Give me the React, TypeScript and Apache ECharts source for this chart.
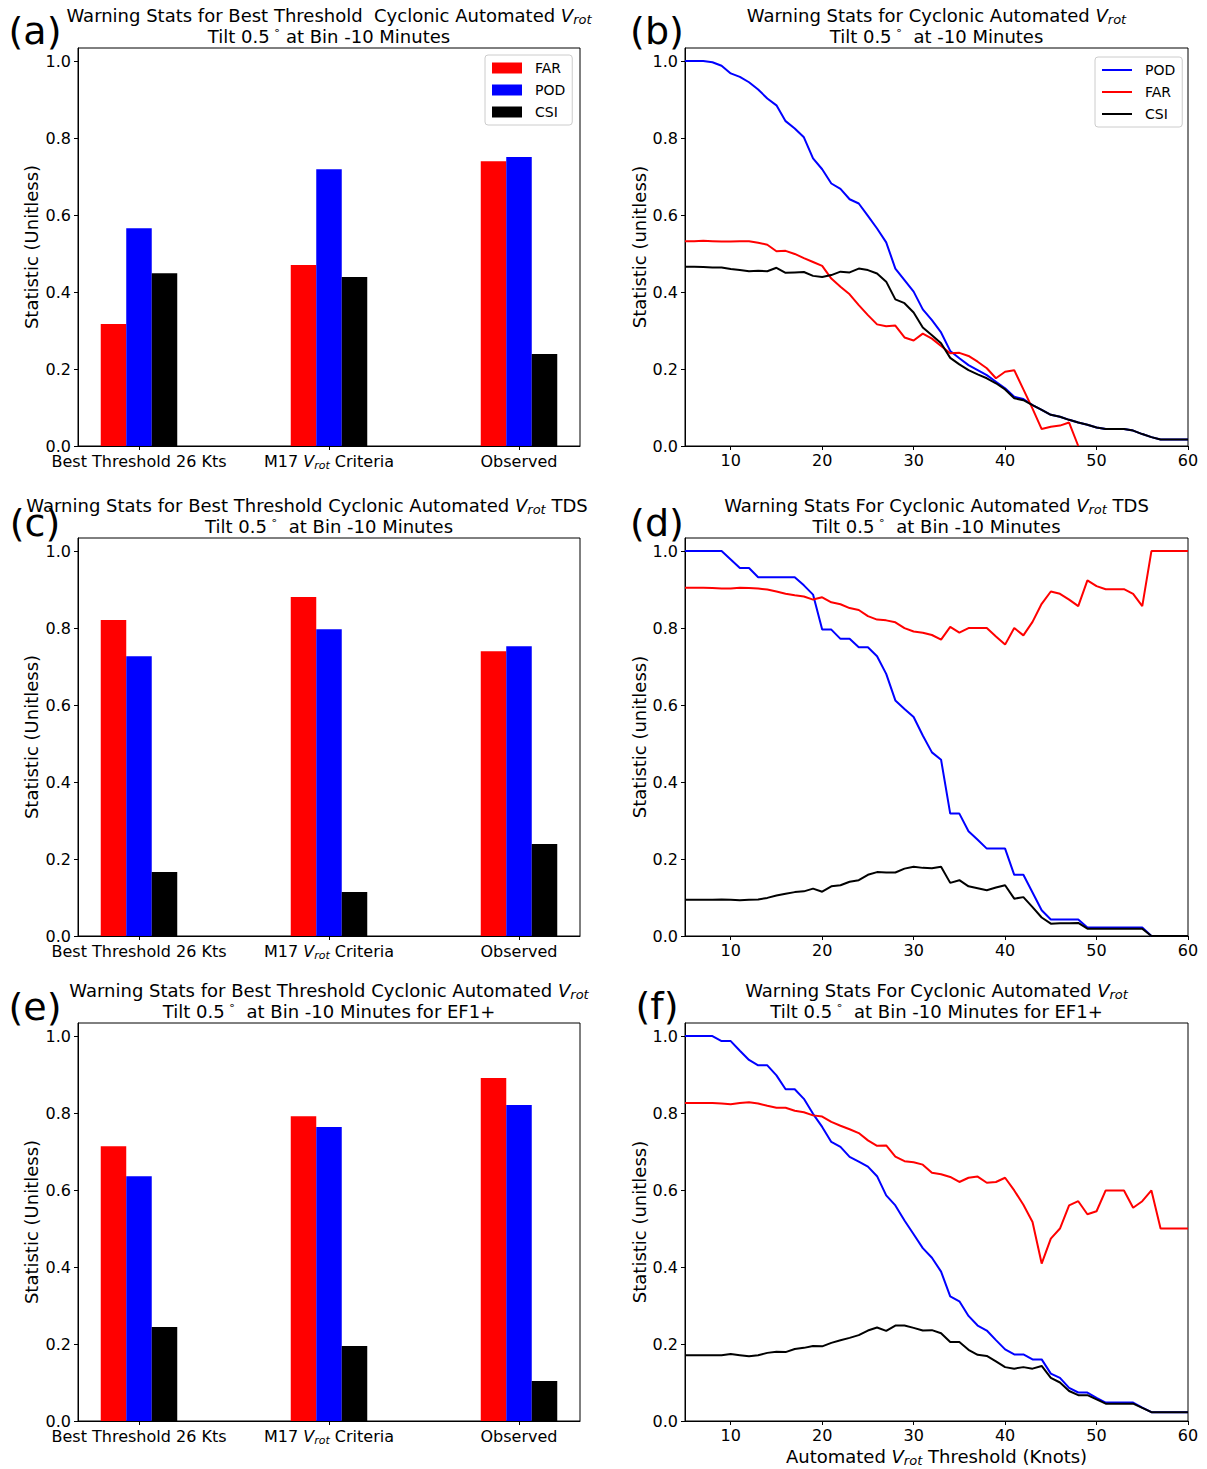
import React, { useEffect, useRef } from 'react';
import * as echarts from 'echarts';

const FONT = 'DejaVu Sans';

// ---------- Bar chart data ----------
const barCategories = ['Best Threshold 26 Kts', 'M17 V_rot Criteria', 'Observed'];
const barPositions = [0, 1, 2];

const aFAR = [0.317, 0.470, 0.740];
const aPOD = [0.566, 0.719, 0.751];
const aCSI = [0.449, 0.439, 0.239];

const cFAR = [0.821, 0.881, 0.740];
const cPOD = [0.727, 0.797, 0.753];
const cCSI = [0.166, 0.114, 0.239];

const eFAR = [0.714, 0.792, 0.891];
const ePOD = [0.636, 0.764, 0.821];
const eCSI = [0.244, 0.195, 0.104];

// ---------- Line chart data (threshold in knots) ----------
const thresholds = [5, 6, 7, 8, 9, 10, 11, 12, 13, 14, 15, 16, 17, 18, 19, 20, 21, 22, 23, 24, 25, 26, 27, 28, 29, 30,
  31, 32, 33, 34, 35, 36, 37, 38, 39, 40, 41, 42, 43, 44, 45, 46, 47, 48, 49, 50, 51, 52, 53, 54, 55, 56, 57, 58, 59, 60];

const bPOD = [1.0, 1.0, 1.0, 0.997, 0.988, 0.968, 0.959, 0.945, 0.926, 0.903,
  0.885, 0.844, 0.825, 0.802, 0.747, 0.719, 0.682, 0.668, 0.641, 0.630,
  0.598, 0.565, 0.529, 0.461, 0.431, 0.401, 0.355, 0.327, 0.295, 0.247,
  0.228, 0.210, 0.197, 0.184, 0.167, 0.150, 0.128, 0.122, 0.106, 0.094,
  0.081, 0.076, 0.068, 0.061, 0.055, 0.048, 0.044, 0.044, 0.044, 0.040,
  0.031, 0.023, 0.017, 0.017, 0.017, 0.017];
const bFAR = [0.532, 0.532, 0.533, 0.532, 0.531, 0.531, 0.532, 0.532, 0.528, 0.523,
  0.506, 0.507, 0.499, 0.488, 0.478, 0.468, 0.435, 0.414, 0.394, 0.366,
  0.340, 0.316, 0.311, 0.313, 0.282, 0.274, 0.292, 0.279, 0.260, 0.241,
  0.242, 0.234, 0.219, 0.202, 0.176, 0.193, 0.197, 0.147, 0.097, 0.044,
  0.050, 0.053, 0.061, 0.0, null, null, null, null, null, null,
  null, null, null, null, null, null];
const bCSI = [0.466, 0.466, 0.465, 0.464, 0.464, 0.460, 0.457, 0.454, 0.455, 0.454,
  0.463, 0.450, 0.451, 0.452, 0.442, 0.439, 0.444, 0.453, 0.451, 0.461,
  0.457, 0.448, 0.427, 0.381, 0.371, 0.347, 0.308, 0.288, 0.267, 0.229,
  0.212, 0.197, 0.186, 0.176, 0.163, 0.147, 0.124, 0.119, 0.106, 0.094,
  0.081, 0.076, 0.068, 0.061, 0.055, 0.048, 0.044, 0.044, 0.044, 0.040,
  0.031, 0.023, 0.017, 0.017, 0.017, 0.017];

const dPOD = [1, 1, 1, 1, 1, 0.978, 0.956, 0.956, 0.932, 0.932,
  0.932, 0.932, 0.932, 0.911, 0.887, 0.796, 0.796, 0.772, 0.772, 0.750,
  0.750, 0.727, 0.681, 0.612, 0.590, 0.569, 0.521, 0.477, 0.458, 0.318,
  0.318, 0.272, 0.250, 0.227, 0.227, 0.227, 0.159, 0.159, 0.113, 0.067,
  0.043, 0.043, 0.043, 0.043, 0.022, 0.022, 0.022, 0.022, 0.022, 0.022,
  0.022, 0, 0, 0, 0, 0];
const dFAR = [0.905, 0.905, 0.905, 0.904, 0.903, 0.903, 0.905, 0.904, 0.903, 0.900,
  0.895, 0.889, 0.885, 0.882, 0.874, 0.880, 0.867, 0.862, 0.852, 0.847,
  0.831, 0.822, 0.820, 0.815, 0.800, 0.791, 0.788, 0.782, 0.770, 0.803,
  0.788, 0.800, 0.800, 0.800, 0.778, 0.757, 0.800, 0.781, 0.816, 0.863,
  0.895, 0.889, 0.874, 0.857, 0.924, 0.909, 0.901, 0.901, 0.901, 0.889,
  0.857, 1, 1, 1, 1, 1];
const dCSI = [0.094, 0.094, 0.094, 0.094, 0.095, 0.094, 0.093, 0.094, 0.095, 0.099,
  0.105, 0.110, 0.114, 0.116, 0.123, 0.115, 0.129, 0.132, 0.141, 0.145,
  0.159, 0.166, 0.165, 0.165, 0.175, 0.180, 0.177, 0.176, 0.180, 0.138,
  0.145, 0.129, 0.124, 0.119, 0.126, 0.132, 0.097, 0.101, 0.075, 0.048,
  0.032, 0.033, 0.033, 0.034, 0.019, 0.019, 0.019, 0.019, 0.019, 0.019,
  0.019, 0, 0, 0, 0, 0];

const fPOD = [1, 1, 1, 1, 0.987, 0.987, 0.962, 0.938, 0.924, 0.924,
  0.898, 0.862, 0.862, 0.837, 0.798, 0.764, 0.725, 0.712, 0.686, 0.674,
  0.661, 0.636, 0.586, 0.560, 0.521, 0.485, 0.449, 0.424, 0.388, 0.324,
  0.311, 0.273, 0.248, 0.235, 0.210, 0.186, 0.173, 0.173, 0.160, 0.160,
  0.123, 0.112, 0.086, 0.074, 0.074, 0.060, 0.048, 0.048, 0.048, 0.048,
  0.035, 0.023, 0.023, 0.023, 0.023, 0.023];
const fFAR = [0.826, 0.826, 0.826, 0.826, 0.825, 0.823, 0.826, 0.828, 0.825, 0.819,
  0.814, 0.814, 0.806, 0.802, 0.794, 0.791, 0.777, 0.767, 0.758, 0.748,
  0.729, 0.715, 0.716, 0.687, 0.675, 0.672, 0.666, 0.645, 0.641, 0.634,
  0.621, 0.632, 0.635, 0.619, 0.621, 0.632, 0.599, 0.562, 0.517, 0.409,
  0.474, 0.500, 0.560, 0.571, 0.537, 0.545, 0.599, 0.599, 0.599, 0.554,
  0.571, 0.599, 0.500, 0.500, 0.500, 0.500];
const fCSI = [0.171, 0.171, 0.171, 0.171, 0.171, 0.174, 0.171, 0.168, 0.171, 0.177,
  0.180, 0.179, 0.187, 0.190, 0.195, 0.194, 0.203, 0.210, 0.216, 0.223,
  0.235, 0.243, 0.234, 0.248, 0.248, 0.242, 0.235, 0.236, 0.228, 0.205,
  0.205, 0.185, 0.172, 0.169, 0.155, 0.140, 0.136, 0.140, 0.136, 0.143,
  0.112, 0.100, 0.078, 0.067, 0.067, 0.056, 0.045, 0.045, 0.045, 0.045,
  0.034, 0.023, 0.023, 0.023, 0.023, 0.023];

const yTicks = [0, 0.2, 0.4, 0.6, 0.8, 1.0];
const lineXTicks = [10, 20, 30, 40, 50, 60];

const titles = [
  ['Warning Stats for Best Threshold  Cyclonic Automated V_rot', 'Tilt 0.5\u2009° at Bin -10 Minutes'],
  ['Warning Stats for Cyclonic Automated V_rot', 'Tilt 0.5\u2009°  at -10 Minutes'],
  ['Warning Stats for Best Threshold Cyclonic Automated V_rot TDS', 'Tilt 0.5\u2009°  at Bin -10 Minutes'],
  ['Warning Stats For Cyclonic Automated V_rot TDS', 'Tilt 0.5\u2009°  at Bin -10 Minutes'],
  ['Warning Stats for Best Threshold Cyclonic Automated V_rot', 'Tilt 0.5\u2009°  at Bin -10 Minutes for EF1+'],
  ['Warning Stats For Cyclonic Automated V_rot', 'Tilt 0.5\u2009°  at Bin -10 Minutes for EF1+'],
];
const letters = ['(a)', '(b)', '(c)', '(d)', '(e)', '(f)'];

// ---------- Layout ----------
const GRIDS = [
  { left: 78, top: 48, width: 502, height: 398 },
  { left: 685, top: 48, width: 503, height: 398 },
  { left: 78, top: 538, width: 502, height: 398 },
  { left: 685, top: 538, width: 503, height: 398 },
  { left: 78, top: 1023, width: 502, height: 398 },
  { left: 685, top: 1023, width: 503, height: 398 },
];
const LETTER_OFFSETS = [-17, -17, -15, -15, -16, -17];
const Y_MAX = 1.034;
const BAR_X_MIN = -0.321;
const BAR_X_MAX = 2.321;

function toRich(s: string): string {
  return s
    .split(/(V_rot|°)/)
    .filter((p) => p !== '')
    .map((p) => (p === 'V_rot' ? '{v|V}{s|rot}' : p === '°' ? '{sup|∘}' : `{n|${p}}`))
    .join('');
}

function richStyles(size: number, color = true) {
  const c = color ? { color: '#000' } : { fill: '#000' };
  return {
    n: { fontFamily: FONT, fontSize: size, lineHeight: size + 4, ...c },
    v: { fontFamily: FONT, fontSize: size, fontStyle: 'italic', lineHeight: size + 4, ...c },
    s: { fontFamily: FONT, fontSize: Math.round(size * 0.7), fontStyle: 'italic', lineHeight: Math.round(size * 0.7) + 1, verticalAlign: 'bottom', ...c },
    sup: { fontFamily: FONT, fontSize: Math.round(size * 0.6), lineHeight: Math.round(size * 0.6) + 1, verticalAlign: 'top', ...c },
  };
}

const COLORS = { FAR: '#ff0000', POD: '#0000ff', CSI: '#000000' };

function buildOption() {
  const grid = GRIDS.map((g) => ({ ...g, show: true, borderColor: '#000', borderWidth: 1, backgroundColor: 'transparent', outerBoundsMode: 'none' }));

  const xAxis: any[] = [];
  const yAxis: any[] = [];
  const series: any[] = [];

  GRIDS.forEach((g, i) => {
    const isBar = i % 2 === 0;
    yAxis.push({
      type: 'value',
      gridIndex: i,
      min: 0,
      max: Y_MAX,
      axisLine: { show: true, onZero: false, lineStyle: { color: '#000', width: 1 } },
      axisTick: { show: true, length: 4, customValues: yTicks, lineStyle: { color: '#000' } },
      axisLabel: { customValues: yTicks, formatter: (v: number) => v.toFixed(1), color: '#000', fontSize: 16, fontFamily: FONT, margin: 7 },
      splitLine: { show: false },
      name: isBar ? 'Statistic (Unitless)' : 'Statistic (unitless)',
      nameLocation: 'middle',
      nameRotate: 90,
      nameGap: isBar ? 38 : 36,
      nameTextStyle: { fontSize: 18, fontFamily: FONT, color: '#000' },
    });
    if (isBar) {
      xAxis.push({
        type: 'value',
        gridIndex: i,
        min: BAR_X_MIN,
        max: BAR_X_MAX,
        axisLine: { show: true, onZero: false, lineStyle: { color: '#000', width: 1 } },
        axisTick: { show: true, length: 4, customValues: barPositions, lineStyle: { color: '#000' } },
        axisLabel: {
          customValues: barPositions,
          formatter: (v: number) => toRich(barCategories[Math.round(v)]),
          margin: 5,
          rich: richStyles(16),
        },
        splitLine: { show: false },
      });
    } else {
      xAxis.push({
        type: 'value',
        gridIndex: i,
        min: 5,
        max: 60,
        axisLine: { show: true, onZero: false, lineStyle: { color: '#000', width: 1 } },
        axisTick: { show: true, length: 4, customValues: lineXTicks, lineStyle: { color: '#000' } },
        axisLabel: { customValues: lineXTicks, formatter: (v: number) => String(v), color: '#000', fontSize: 16, fontFamily: FONT, margin: 6 },
        splitLine: { show: false },
        ...(i === 5
          ? {
              name: toRich('Automated V_rot Threshold (Knots)'),
              nameLocation: 'middle',
              nameGap: 24,
              nameTextStyle: { rich: richStyles(18) },
            }
          : {}),
      });
    }
  });

  const barSets = [
    [aFAR, aPOD, aCSI],
    [cFAR, cPOD, cCSI],
    [eFAR, ePOD, eCSI],
  ];
  barSets.forEach((set, k) => {
    const gi = k * 2;
    (['FAR', 'POD', 'CSI'] as const).forEach((name, j) => {
      series.push({
        type: 'bar',
        name,
        xAxisIndex: gi,
        yAxisIndex: gi,
        data: barPositions.map((p, m) => [p, set[j][m]]),
        barWidth: 25.5,
        barGap: '0%',
        itemStyle: { color: COLORS[name] },
        emphasis: { disabled: true },
      });
    });
  });

  const lineSets = [
    { POD: bPOD, FAR: bFAR, CSI: bCSI },
    { POD: dPOD, FAR: dFAR, CSI: dCSI },
    { POD: fPOD, FAR: fFAR, CSI: fCSI },
  ];
  lineSets.forEach((set, k) => {
    const gi = k * 2 + 1;
    (['POD', 'FAR', 'CSI'] as const).forEach((name) => {
      series.push({
        type: 'line',
        name,
        xAxisIndex: gi,
        yAxisIndex: gi,
        data: thresholds.map((t, m) => [t, set[name][m]]),
        symbol: 'none',
        showSymbol: false,
        connectNulls: false,
        lineStyle: { color: COLORS[name], width: 2 },
        itemStyle: { color: COLORS[name] },
        emphasis: { disabled: true },
      });
    });
  });

  const legendCommon = {
    orient: 'vertical',
    itemGap: 8,
    padding: [6, 7, 6, 7],
    backgroundColor: 'rgba(255,255,255,0.8)',
    borderColor: '#cccccc',
    borderWidth: 1,
    borderRadius: 3,
    textStyle: { fontSize: 14, fontFamily: FONT, color: '#000', padding: [0, 0, 0, 8] },
    selectedMode: false,
  };
  const legend = [
    { ...legendCommon, left: 485, top: 55, itemWidth: 30, itemHeight: 11, icon: 'rect', data: ['FAR', 'POD', 'CSI'] },
    { ...legendCommon, left: 1095, top: 57, itemWidth: 30, itemHeight: 2, icon: 'rect', data: ['POD', 'FAR', 'CSI'] },
  ];

  const graphic: any[] = [];
  GRIDS.forEach((g, i) => {
    const cx = g.left + g.width / 2;
    const baseY = g.top - 33;
    graphic.push({
      type: 'text',
      x: i === 2 ? cx - 22 : cx,
      y: baseY,
      style: { text: toRich(titles[i][0]), rich: richStyles(18, false), align: 'center', verticalAlign: 'middle' },
    });
    graphic.push({
      type: 'text',
      x: cx,
      y: baseY + 21,
      style: { text: toRich(titles[i][1]), rich: richStyles(18, false), align: 'center', verticalAlign: 'middle' },
    });
    const isLeft = i % 2 === 0;
    graphic.push({
      type: 'text',
      x: isLeft ? 35 : 657,
      y: g.top + LETTER_OFFSETS[i],
      style: { text: letters[i], fontSize: 38, fontFamily: FONT, fill: '#000', align: 'center', verticalAlign: 'middle' },
    });
  });

  return {
    animation: false,
    backgroundColor: '#ffffff',
    textStyle: { fontFamily: FONT },
    grid,
    xAxis,
    yAxis,
    series,
    legend,
    graphic,
  };
}

export default function App() {
  const ref = useRef<HTMLDivElement>(null);
  useEffect(() => {
    document.body.style.margin = '0';
    const chart = echarts.init(ref.current!, null, { renderer: 'svg' });
    chart.setOption(buildOption() as any);
    return () => {
      chart.dispose();
    };
  }, []);
  return <div ref={ref} style={{ width: 1207, height: 1469 }} />;
}
